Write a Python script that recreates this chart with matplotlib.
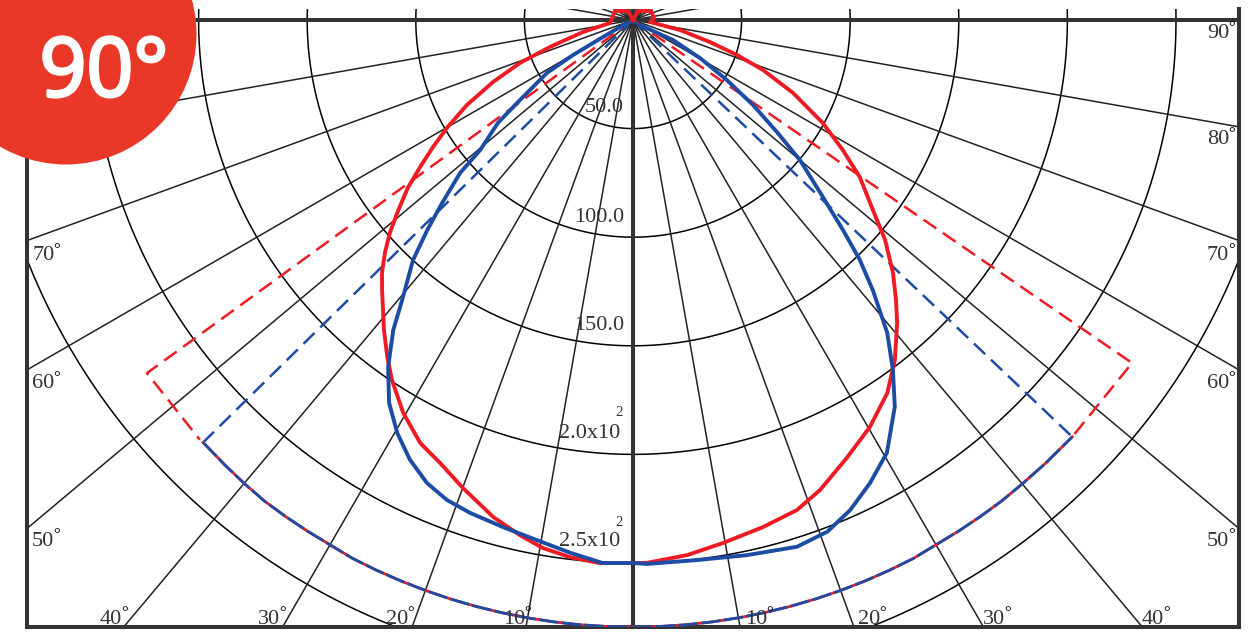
import numpy as np
import matplotlib
matplotlib.use('Agg')
import matplotlib.pyplot as plt
import matplotlib.patheffects as pe
from matplotlib.patches import Circle

# Angle from nadir (deg), intensity. Left and right halves read separately
red_l_ang = [0, 3.5, 6.7, 9.7, 12.4, 15.7, 20, 23.5, 26.7, 30.3, 33.8, 36.1, 38.8, 42.9, 44.8, 46.8, 48.8, 51, 53.3,
             55.4, 57.6, 59.9, 62.9, 66.1, 69.2, 72, 76.5, 82.6, 95, 116.6, 151, 180]
red_l_val = [250, 250.5, 249, 246.6, 242.8, 237.7, 229.2, 222.5, 218, 209.6, 199.5, 192, 183, 169.7, 164, 156.7, 148.8,
             139, 129.3, 119, 109, 99, 85.9, 70.5, 55.7, 40.2, 23.7, 10.7, 9.7, 9.3, 4.7, 0]
red_r_ang = [0, 1.5, 5.8, 9.8, 14.4, 18.5, 21.7, 26, 30.2, 34.3, 37.6, 41.1, 43.2, 45.8, 48.9, 51.6, 55.3, 58.2, 61.5,
             65.5, 69, 71.4, 74, 78, 83.3, 95, 116.6, 151, 180]
red_r_val = [250, 250, 247.6, 244.3, 241, 237.9, 232.9, 224.4, 216.8, 207.8, 197.6, 185, 176.9, 167, 154, 141, 127,
             113.7, 99.5, 81, 64, 50.5, 36.9, 22.1, 7.9, 9.7, 9.3, 4.7, 0]

blue_l_ang = [0, 3.2, 6.7, 10.5, 14.4, 18.3, 21.2, 24, 26.9, 29.7, 32.5, 35.2, 37.7, 39.7, 42.5, 44.4, 46.2, 48.5,
              49.6, 52.7, 54.7, 58.4, 59.7, 60.5, 63.4]
blue_l_val = [250, 250.4, 247, 243.5, 241, 239, 237, 233.3, 227, 219, 209, 195.6, 180.5, 165.8, 149.9, 135.4, 121.8,
              106.3, 92.4, 78.2, 63.8, 46.5, 32, 15.9, 3.1]
blue_r_ang = [0, 1.5, 6.8, 12, 17.3, 20.8, 23.9, 27.1, 30.4, 34.1, 36.6, 39.1, 41.6, 43.4, 45, 47, 50, 52.1, 54.7,
              57.4, 60.4, 63.4, 54.5]
blue_r_val = [250, 250.5, 250.4, 251.9, 254, 252, 246.8, 239.5, 231, 215, 200.7, 185.6, 166.3, 152, 136.7, 119.6,
              100.4, 84, 67.7, 51.3, 35.5, 20.6, 4]

# Dashed outlines: straight legs to the corner, then chord down to the arc
red_dash_l_ang = [0, 54, 45.9]
red_dash_l_val = [0, 276.6, 277.7]
red_dash_r_ang = [0, 55.5, 46.5]
red_dash_r_val = [0, 278.8, 278.8]
blue_dash_l_ang = [0, 45.5]
blue_dash_l_val = [0, 277]
blue_dash_r_ang = [0, 46.5]
blue_dash_r_val = [0, 278.8]

arc_l_ang = [45.5, 42.5, 40, 37.5, 35, 32.5, 30, 27.5, 25, 22.5, 20, 17.5, 15, 12.5, 10, 7.5, 5, 2.5, 0]
arc_l_val = [277.5, 278, 278.5, 279, 279, 279, 279, 279.5, 279.5, 279.5, 279.5, 279.5, 279.5, 279.5, 279.5, 279.5,
             279.5, 279.5, 279.5]
arc_r_ang = [0, 2.5, 5, 7.5, 10, 12.5, 15, 17.5, 20, 22.5, 25, 27.5, 30, 32.5, 35, 37.5, 40, 43, 46.5]
arc_r_val = [279.5, 279.5, 279.5, 279.5, 279.5, 279.5, 279.5, 279.5, 279.5, 279.5, 279.5, 279.5, 279, 279, 279, 279,
             278.8, 278.8, 278.8]

grid_radii = [50, 100, 150, 200, 250, 300]
grid_angles = np.arange(-180, 180, 10)

radial_labels = ['50.0', '100.0', '150.0', '2.0x10', '2.5x10']
radial_label_x = [624, 624, 624, 620, 620]
radial_label_y = [107, 217, 325, 433, 542]
power_y = [412, 522]

angle_labels = ['90', '80', '70', '60', '50', '40', '30', '20', '10']
left_x = [32, 32, 32, 32, 32, 100, 258, 386, 503]
right_x = [1207, 1207, 1207, 1207, 1207, 1142, 983, 858, 745]
label_y = [34, 140, 256, 384, 541, 619, 619, 619, 619]

RED = '#ED1C24'
BLUE = '#1C4CA3'
DARK = '#333333'
SCALE = 2.172  # px per unit


def to_xy(ang, val, side=1):
    a = np.radians(np.array(ang, dtype=float))
    v = np.array(val, dtype=float)
    return side * v * np.sin(a), -v * np.cos(a)


fig = plt.figure(figsize=(12.5, 6.36), dpi=100)
ax = fig.add_axes([27 / 1250, 9 / 636, (1239 - 27) / 1250, (627 - 9) / 636])
ax.set_xlim(-606 / SCALE, 606 / SCALE)
ax.set_ylim(-607 / SCALE, 11 / SCALE)
ax.set_xticks([])
ax.set_yticks([])
ax.spines['top'].set_visible(False)
for s in ['left', 'right', 'bottom']:
    ax.spines[s].set_linewidth(2.9)
    ax.spines[s].set_color(DARK)

# grid
t = np.linspace(-180, 180, 721)
for r in grid_radii:
    x, y = to_xy(t, np.full(t.shape, r))
    ax.plot(x, y, color='black', lw=1.1, zorder=1)
for a in grid_angles:
    x, y = to_xy([a, a], [0, 600])
    ax.plot(x, y, color='#222222', lw=1.1, zorder=1)
ax.axhline(0, color=DARK, lw=2.9, zorder=2)
ax.axvline(0, color=DARK, lw=2.9, zorder=2)

# dashed outlines
x, y = to_xy(red_dash_l_ang, red_dash_l_val, -1)
ax.plot(x, y, color=RED, lw=1.8, dashes=(6.2, 3.2), zorder=3)
x, y = to_xy(red_dash_r_ang, red_dash_r_val)
ax.plot(x, y, color=RED, lw=1.8, dashes=(6.2, 3.2), zorder=3)
x, y = to_xy(blue_dash_l_ang, blue_dash_l_val, -1)
ax.plot(x, y, color=BLUE, lw=1.8, dashes=(6.2, 3.2), zorder=4)
x, y = to_xy(blue_dash_r_ang, blue_dash_r_val)
ax.plot(x, y, color=BLUE, lw=1.8, dashes=(6.2, 3.2), zorder=4)

for ang, val, side in [(arc_l_ang, arc_l_val, -1), (arc_r_ang, arc_r_val, 1)]:
    x, y = to_xy(ang, val, side)
    ax.plot(x, y, color=RED, lw=2, zorder=3)
    ax.plot(x, y, color=BLUE, lw=2, dashes=(7, 1.2), zorder=4)

# solid curves
x1, y1 = to_xy(red_l_ang[::-1], red_l_val[::-1], -1)
x2, y2 = to_xy(red_r_ang, red_r_val)
ax.plot(np.r_[x1, x2], np.r_[y1, y2], color=RED, lw=2.8, zorder=5)
x1, y1 = to_xy(blue_l_ang[::-1], blue_l_val[::-1], -1)
x2, y2 = to_xy(blue_r_ang, blue_r_val)
ax.plot(np.r_[x1, x2], np.r_[y1, y2], color=BLUE, lw=2.8, zorder=6)

# overlay in pixels for text and the badge
px = fig.add_axes([0, 0, 1, 1])
px.set_xlim(0, 1250)
px.set_ylim(636, 0)
px.axis('off')
px.patch.set_alpha(0)

serif = 'Liberation Serif'
for s, lx, ly in zip(radial_labels, radial_label_x, radial_label_y):
    px.text(lx, ly, s, ha='right', va='center', family=serif, fontsize=16, color=DARK)
for py in power_y:
    px.text(619, py, '2', ha='center', va='center', family=serif, fontsize=10.5, color=DARK)
for s, lx, rx, ly in zip(angle_labels, left_x, right_x, label_y):
    if s != '90':
        px.text(lx, ly, s, ha='left', va='center', family=serif, fontsize=16, color=DARK)
        px.text(lx + 21, ly - 6, '°', ha='left', va='center', family=serif, fontsize=12, color='black')
    px.text(rx, ly, s, ha='left', va='center', family=serif, fontsize=16, color=DARK)
    px.text(rx + 21, ly - 6, '°', ha='left', va='center', family=serif, fontsize=12, color='black')

px.add_patch(Circle((66, 34), 130.5, color='#E93828', lw=0, zorder=10))
# no semibold face here, so thicken the regular one a bit
badge = px.text(104, 75, '90°', ha='center', va='center', family='Open Sans',
                fontsize=59, color='white', zorder=11)
badge.set_path_effects([pe.withStroke(linewidth=2.2, foreground='white')])

plt.savefig('out.png', dpi=100)
